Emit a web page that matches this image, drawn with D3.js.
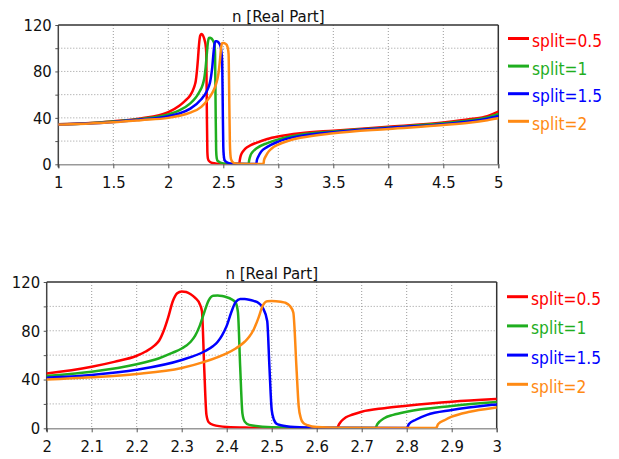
<!DOCTYPE html>
<html><head><meta charset="utf-8">
<script src="https://cdn.jsdelivr.net/npm/d3@7"></script>
<style>
body{margin:0;background:#fff;}
svg{display:block;font-family:"DejaVu Sans Condensed","DejaVu Sans",Verdana,sans-serif;font-stretch:condensed;}
</style></head>
<body><svg id="chart" width="619" height="459"></svg>
<script>
// ---- data ----
const seriesNames = ["split=0.5", "split=1", "split=1.5", "split=2"];
const seriesColors = ["#ff0000", "#1fae1f", "#0000ff", "#ff8a14"];
const chartTitle = "n [Real Part]";

const split05 = [[1.0,34.5],[1.25,35.3],[1.5,37],[1.75,39.5],[2.0,45],[2.1,50.5],[2.15,54.5],[2.2,59.5],[2.22,63],[2.24,68],[2.25,72],[2.26,80],[2.27,91],[2.28,104],[2.29,110.8],[2.3,112.3],[2.31,111.8],[2.32,110],[2.33,107],[2.34,102],[2.345,96],[2.35,50],[2.355,11],[2.36,5],[2.37,2.8],[2.4,1.1],[2.45,0.5],[2.5,0.3],[2.6,0.2],[2.645,0.2],[2.65,3.5],[2.655,6],[2.665,9],[2.68,11.3],[2.7,13.6],[2.75,16.5],[2.8,18.5],[2.9,21.8],[3.0,24],[3.2,26.8],[3.5,29],[4.0,32.3],[4.5,36],[4.75,39],[4.9,41.5],[5.0,45.3]];
const split1 = [[1.0,34.5],[1.25,35.2],[1.5,36.8],[1.75,39],[2.0,43],[2.1,46.4],[2.2,52.5],[2.25,57.5],[2.28,62],[2.3,65.5],[2.32,71],[2.33,76],[2.34,84],[2.35,95],[2.36,105],[2.37,108.8],[2.38,109],[2.39,108.5],[2.4,107.5],[2.41,106],[2.42,103],[2.425,95],[2.43,50],[2.435,12],[2.44,5.5],[2.45,2.8],[2.5,0.8],[2.6,0.3],[2.73,0.2],[2.735,3.5],[2.75,8.3],[2.77,11],[2.8,13.6],[2.9,18.3],[3.0,21.5],[3.2,25.5],[3.5,28.3],[4.0,31.8],[4.5,35.3],[4.75,38],[4.9,40.3],[5.0,43.3]];
const split15 = [[1.0,34.3],[1.25,35.1],[1.5,36.5],[1.75,38.5],[2.0,41.5],[2.1,43.8],[2.2,48],[2.3,56],[2.35,63],[2.37,67.5],[2.38,71],[2.39,76.5],[2.4,84],[2.41,95],[2.42,103.5],[2.43,106],[2.44,106],[2.45,105.5],[2.46,104.5],[2.47,103],[2.48,99],[2.49,88],[2.495,50],[2.5,15],[2.505,7],[2.51,4],[2.52,2.5],[2.55,1],[2.6,0.4],[2.8,0.2],[2.805,3.5],[2.82,7],[2.845,11],[2.9,15],[3.0,19.6],[3.2,24.5],[3.5,27.7],[4.0,31.3],[4.5,34.6],[4.75,37],[4.9,39.3],[5.0,41.6]];
const split2 = [[1.0,34.2],[1.25,35],[1.5,36.2],[1.75,38],[2.0,40],[2.1,41.8],[2.2,44.5],[2.3,49.5],[2.35,54.5],[2.4,61.5],[2.42,65.5],[2.44,71],[2.45,75],[2.46,81],[2.47,90],[2.48,100.5],[2.49,104.3],[2.5,104.5],[2.52,103.8],[2.53,103],[2.54,100.5],[2.548,95],[2.555,50],[2.56,18],[2.565,8],[2.57,4.5],[2.58,2.5],[2.6,1],[2.65,0.4],[2.865,0.2],[2.87,3.5],[2.885,6.8],[2.9,9.5],[2.94,13.6],[3.0,17],[3.1,20.5],[3.2,22.8],[3.5,26.8],[4.0,30.5],[4.5,33.8],[4.75,36],[4.9,38],[5.0,39.6]];
const allSeries = [split05, split1, split15, split2];

const topXTicks = [1, 1.5, 2, 2.5, 3, 3.5, 4, 4.5, 5];
const bottomXTicks = [2, 2.1, 2.2, 2.3, 2.4, 2.5, 2.6, 2.7, 2.8, 2.9, 3];
const yGridTicks = [0, 20, 40, 60, 80, 100, 120];
const yLabelTicks = [0, 40, 80, 120];

// ---- drawing ----
const svg = d3.select("#chart");
const FONT = '"DejaVu Sans Condensed","DejaVu Sans",Verdana,sans-serif';

function drawPanel(cfg, id) {
  const x = d3.scaleLinear().domain(cfg.xDomain).range([cfg.left, cfg.right]);
  const y = d3.scaleLinear().domain([0, 120]).range([cfg.bottom, cfg.top]);
  const g = svg.append("g");

  g.append("clipPath").attr("id", "clip" + id).append("rect")
    .attr("x", cfg.left).attr("y", cfg.top - 2)
    .attr("width", cfg.right - cfg.left).attr("height", cfg.bottom - cfg.top + 2);

  // grid
  g.append("g").selectAll("line").data(yGridTicks.filter(v => v > 0 && v < 120)).join("line")
    .attr("x1", cfg.left).attr("x2", cfg.right)
    .attr("y1", d => y(d)).attr("y2", d => y(d))
    .attr("stroke", "#9a9a9a").attr("stroke-width", 1).attr("stroke-dasharray", "1,2");
  g.append("g").selectAll("line").data(cfg.xTicks.slice(1, -1)).join("line")
    .attr("x1", d => x(d)).attr("x2", d => x(d))
    .attr("y1", cfg.top).attr("y2", cfg.bottom)
    .attr("stroke", "#9a9a9a").attr("stroke-width", 1).attr("stroke-dasharray", "1,2");

  // x axis
  const xAxis = d3.axisBottom(x).tickValues(cfg.xTicks).tickSize(4).tickPadding(8)
    .tickFormat(d3.format("~g"));
  const xa = g.append("g").attr("transform", `translate(0,${cfg.bottom})`).call(xAxis);
  xa.select(".domain").attr("stroke", "#999").attr("stroke-width", 1.5);
  xa.selectAll(".tick line").attr("stroke", "#555");
  xa.selectAll(".tick text").attr("font-size", 16.5).attr("fill", "#111")
    .attr("font-family", FONT).attr("font-stretch", "condensed");

  // y axis
  const yAxis = d3.axisLeft(y).tickValues(yGridTicks).tickSize(3).tickPadding(3.5)
    .tickFormat(d => yLabelTicks.includes(d) ? d : "");
  const ya = g.append("g").attr("transform", `translate(${cfg.left},0)`).call(yAxis);
  ya.select(".domain").remove();
  ya.selectAll(".tick line").attr("stroke", "#555");
  ya.selectAll(".tick text").attr("font-size", 16.5).attr("fill", "#111")
    .attr("font-family", FONT).attr("font-stretch", "condensed");

  // frame
  g.append("line").attr("x1", cfg.left).attr("x2", cfg.left).attr("y1", cfg.top).attr("y2", cfg.bottom + 3)
    .attr("stroke", "#444").attr("stroke-width", 1.5);
  g.append("line").attr("x1", cfg.left).attr("x2", cfg.right).attr("y1", cfg.top).attr("y2", cfg.top)
    .attr("stroke", "#333").attr("stroke-width", 1.5);
  g.append("line").attr("x1", cfg.right).attr("x2", cfg.right).attr("y1", cfg.top).attr("y2", cfg.bottom)
    .attr("stroke", "#333").attr("stroke-width", 1.5);

  // title
  g.append("text").attr("x", (cfg.left + cfg.right) / 2).attr("y", cfg.top - 3.5)
    .attr("text-anchor", "middle").attr("font-size", 16.7).attr("fill", "#111").text(chartTitle);

  // lines
  const line = d3.line().x(d => x(d[0])).y(d => y(d[1])).curve(d3.curveMonotoneX);
  g.append("g").attr("clip-path", `url(#clip${id})`)
    .selectAll("path").data(allSeries).join("path")
    .attr("d", line).attr("fill", "none")
    .attr("stroke", (d, i) => seriesColors[i]).attr("stroke-width", 2.5)
    .attr("stroke-linejoin", "round").attr("stroke-linecap", "round");

  // legend
  const lg = g.append("g");
  seriesNames.forEach((name, i) => {
    const ly = cfg.legendTop + i * cfg.legendStep;
    lg.append("line").attr("x1", cfg.legendX).attr("x2", cfg.legendX + 21)
      .attr("y1", ly).attr("y2", ly).attr("stroke", seriesColors[i]).attr("stroke-width", 3);
    lg.append("text").attr("x", cfg.legendX + 24).attr("y", ly + 8.4)
      .attr("font-size", 17.2).attr("fill", seriesColors[i]).text(name);
  });
}

drawPanel({xDomain: [1, 5], xTicks: topXTicks, left: 58.3, right: 498.3, top: 25, bottom: 164.3,
  legendX: 508, legendTop: 38.5, legendStep: 27.6}, "a");
drawPanel({xDomain: [2, 3], xTicks: bottomXTicks, left: 46.7, right: 496.7, top: 282, bottom: 428.3,
  legendX: 507, legendTop: 296.7, legendStep: 29.2}, "b");
</script>
</body></html>
